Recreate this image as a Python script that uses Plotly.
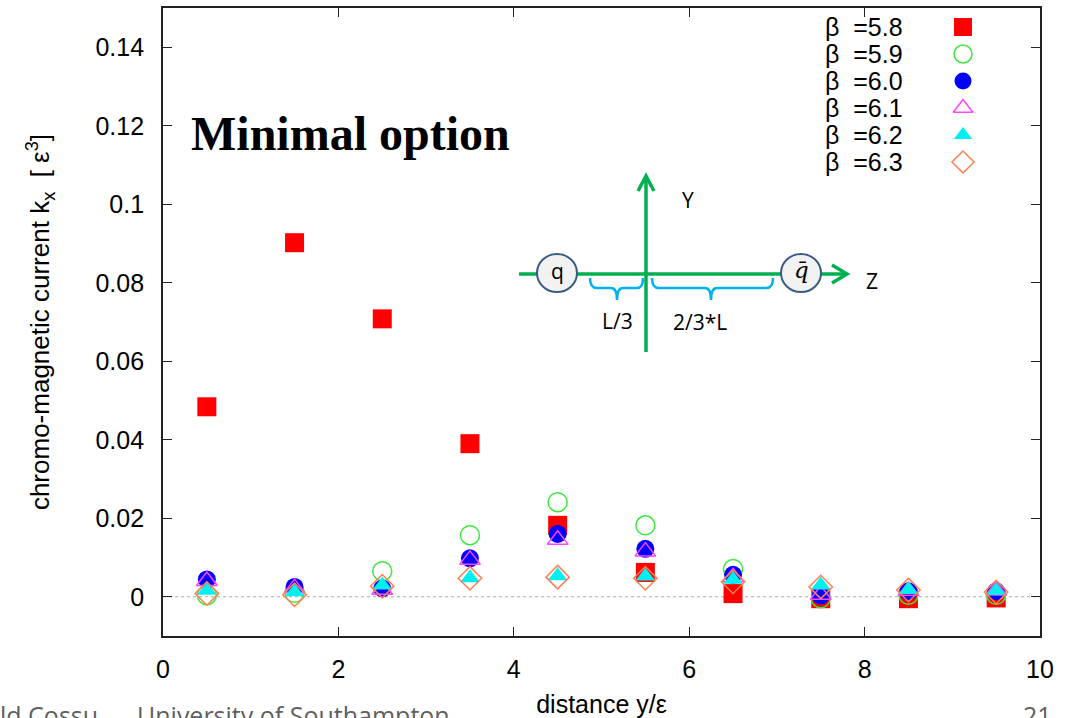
import plotly.graph_objects as go

# distance y/eps and chromo-magnetic current k_x for each beta
distance = [0.5, 1.5, 2.5, 3.5, 4.5, 5.5, 6.5, 7.5, 8.5, 9.5]
k_b58 = [0.0484, 0.0902, 0.0708, 0.0390, 0.0182, 0.0062, 0.0008, -0.0005, -0.0005, -0.0003]
k_b59 = [0.0004, 0.0010, 0.0065, 0.0157, 0.0241, 0.0182, 0.0071, -0.0004, 0.0005, 0.0005]
k_b60 = [0.0044, 0.0025, 0.0021, 0.0098, 0.0160, 0.0122, 0.0056, 0.0003, 0.0014, 0.0014]
k_b61 = [0.0040, 0.0022, 0.0018, 0.0094, 0.0145, 0.0115, 0.0050, 0.0005, 0.0015, 0.0016]
k_b62 = [0.0016, 0.0012, 0.0029, 0.0048, 0.0053, 0.0052, 0.0044, 0.0029, 0.0018, 0.0015]
k_b63 = [0.0008, 0.0005, 0.0027, 0.0047, 0.0050, 0.0047, 0.0038, 0.0025, 0.0017, 0.0012]

beta_labels = ["5.8", "5.9", "6.0", "6.1", "6.2", "6.3"]
series = [k_b58, k_b59, k_b60, k_b61, k_b62, k_b63]
x_ticks = [0, 2, 4, 6, 8, 10]
y_ticks = [0, 0.02, 0.04, 0.06, 0.08, 0.1, 0.12, 0.14]
y_tick_text = ["0", "0.02", "0.04", "0.06", "0.08", "0.1", "0.12", "0.14"]

styles = [
    dict(symbol="square", color="#ff0000", size=19, line=dict(width=0)),
    dict(symbol="circle-open", color="#3ee83e", size=19, line=dict(width=1.5)),
    dict(symbol="circle", color="#0000ff", size=18, line=dict(width=0)),
    dict(symbol="triangle-up-open", color="#ff44ff", size=18, line=dict(width=1.5)),
    dict(symbol="triangle-up", color="#00f0f0", size=17, line=dict(width=0)),
    dict(symbol="diamond-open", color="#ff7f50", size=18, line=dict(width=1.5)),
]

W, H = 1072, 718
L, R, T, B = 163, 1040, 8, 636  # plot frame in pixels


def px(xp):
    return (xp - L) / (R - L)


def py(yp):
    return (B - yp) / (B - T)


fig = go.Figure()

for vals, st in zip(series, styles):
    fig.add_trace(go.Scatter(
        x=distance, y=vals, mode="markers", cliponaxis=False,
        marker=dict(symbol=st["symbol"], size=st["size"], color=st["color"],
                    line=dict(color=st["color"], width=st["line"]["width"])),
    ))

# key: text on the left, symbol on the right
key_rows = [27, 54, 81, 108, 135, 162]
for lab, st, yr in zip(beta_labels, styles, key_rows):
    fig.add_trace(go.Scatter(
        x=[px(963)], y=[py(yr)], xaxis="x2", yaxis="y2", mode="markers",
        marker=dict(symbol=st["symbol"], size=st["size"] - 1, color=st["color"],
                    line=dict(color=st["color"], width=st["line"]["width"])),
    ))

font_main = "Liberation Sans, Arial, sans-serif"
axis_common = dict(
    showline=True, linecolor="#222222", linewidth=1.8, mirror="ticks",
    ticks="inside", ticklen=9, tickwidth=1.3, tickcolor="#222222",
    showgrid=False, zeroline=False, automargin=False,
    tickfont=dict(family=font_main, size=25, color="black"),
)

annotations = []
for lab, yr in zip(beta_labels, key_rows):
    annotations.append(dict(
        x=px(823), y=py(yr), xref="paper", yref="paper", xanchor="left", yanchor="middle",
        text="β  =" + lab, showarrow=False,
        font=dict(family=font_main, size=25, color="black"),
    ))

annotations.append(dict(
    x=px(189), y=py(133), xref="paper", yref="paper", xanchor="left", yanchor="middle",
    text="<b>Minimal option</b>", showarrow=False,
    font=dict(family="Liberation Serif, Times New Roman, serif", size=48, color="black"),
))

diag_font = dict(family="Open Sans, Noto Sans, sans-serif", size=21, color="black")
for txt, xp_, yp_ in [("q", 557, 271), ("<i>q̄</i>", 801, 270), ("Y", 688, 200),
                      ("Z", 872, 281), ("L/3", 617, 321), ("2/3*L", 700, 322)]:
    f = dict(diag_font)
    if "q̄" in txt:
        f = dict(family="DejaVu Serif, serif", size=23, color="black")
    annotations.append(dict(
        x=px(xp_), y=py(yp_), xref="paper", yref="paper", xanchor="center", yanchor="middle",
        text=txt, showarrow=False, font=f,
    ))

# footer strip at the bottom edge
annotations.append(dict(
    x=px(-2), y=py(715), xref="paper", yref="paper", xanchor="left", yanchor="middle",
    text="ld Cossu      University of Southampton", showarrow=False,
    font=dict(family="Open Sans, sans-serif", size=25, color="#606060"),
))
annotations.append(dict(
    x=px(1037), y=py(715), xref="paper", yref="paper", xanchor="center", yanchor="middle",
    text="21", showarrow=False,
    font=dict(family="Open Sans, sans-serif", size=25, color="#606060"),
))

green = "#00b050"
blue_b = "#00b0f0"
shapes = [
    # dotted zero line
    dict(type="line", xref="x", yref="y", x0=0, x1=10, y0=0, y1=0,
         line=dict(color="#aaaaaa", width=1.2, dash="dot"), layer="below"),
    # Z axis of the sketch
    dict(type="line", xref="paper", yref="paper", x0=px(519), x1=px(845), y0=py(274), y1=py(274),
         line=dict(color=green, width=3.5)),
    dict(type="path", xref="paper", yref="paper",
         path=f"M{px(832)},{py(265)} L{px(847)},{py(274)} L{px(832)},{py(283)}",
         line=dict(color=green, width=3.5)),
    # Y axis of the sketch
    dict(type="line", xref="paper", yref="paper", x0=px(646), x1=px(646), y0=py(352), y1=py(178),
         line=dict(color=green, width=3.5)),
    dict(type="path", xref="paper", yref="paper",
         path=f"M{px(638)},{py(191)} L{px(646)},{py(176)} L{px(654)},{py(191)}",
         line=dict(color=green, width=3.5)),
    # quark and antiquark
    dict(type="circle", xref="paper", yref="paper", x0=px(537), x1=px(577), y0=py(254), y1=py(292),
         fillcolor="#f2f2f2", line=dict(color="#3b5a86", width=2)),
    dict(type="circle", xref="paper", yref="paper", x0=px(781), x1=px(821), y0=py(254), y1=py(292),
         fillcolor="#f2f2f2", line=dict(color="#3b5a86", width=2)),
    # braces
    dict(type="path", xref="paper", yref="paper",
         path=(f"M{px(590)},{py(278)} Q{px(590)},{py(288)} {px(597)},{py(288)} "
               f"L{px(611)},{py(288)} Q{px(617)},{py(288)} {px(617)},{py(300)} "
               f"Q{px(617)},{py(288)} {px(623)},{py(288)} L{px(637)},{py(288)} "
               f"Q{px(643)},{py(288)} {px(643)},{py(278)}"),
         line=dict(color=blue_b, width=2.5)),
    dict(type="path", xref="paper", yref="paper",
         path=(f"M{px(652)},{py(278)} Q{px(652)},{py(288)} {px(659)},{py(288)} "
               f"L{px(705)},{py(288)} Q{px(711)},{py(288)} {px(711)},{py(300)} "
               f"Q{px(711)},{py(288)} {px(717)},{py(288)} L{px(766)},{py(288)} "
               f"Q{px(773)},{py(288)} {px(773)},{py(278)}"),
         line=dict(color=blue_b, width=2.5)),
]

fig.update_layout(
    width=W, height=H,
    margin=dict(l=L, r=W - R, t=T, b=H - B),
    paper_bgcolor="white", plot_bgcolor="white",
    showlegend=False,
    xaxis=dict(range=[0, 10], tickvals=x_ticks, ticklabelstandoff=10, **axis_common,
               title=dict(text="distance y/ε", standoff=18,
                          font=dict(family=font_main, size=25, color="black"))),
    yaxis=dict(range=[-0.01, 0.15], tickvals=y_ticks, ticktext=y_tick_text,
               ticklabelstandoff=12, **axis_common,
               title=dict(text="chromo-magnetic current k<sub>x</sub>  [ ε<sup>3</sup>]",
                          standoff=38, font=dict(family=font_main, size=26, color="black"))),
    xaxis2=dict(overlaying="x", range=[0, 1], visible=False),
    yaxis2=dict(overlaying="y", range=[0, 1], visible=False),
    annotations=annotations,
    shapes=shapes,
)

fig.write_html("out.html")
